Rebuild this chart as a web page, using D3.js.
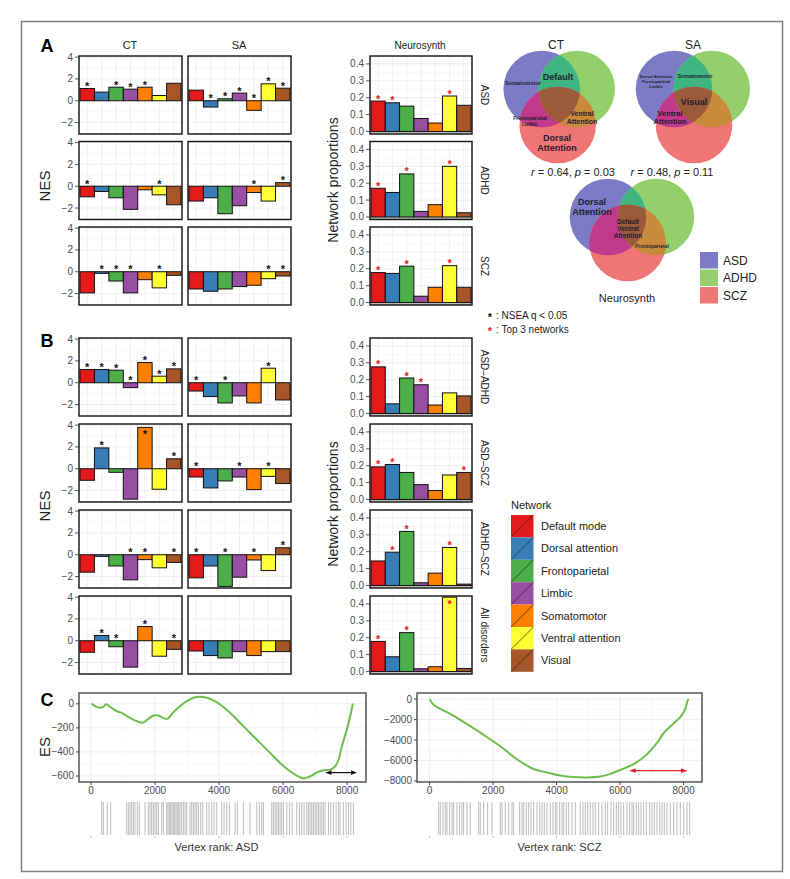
<!DOCTYPE html>
<html><head><meta charset="utf-8">
<script src="https://cdn.jsdelivr.net/npm/d3@7"></script>
<style>
body{margin:0;background:#fff;}
svg text{font-family:"Liberation Sans",Arial,Helvetica,sans-serif;}
</style></head><body>
<svg id="chart" width="790" height="879"></svg>
<script>
// ---------------- DATA ----------------
const networks = ["Default mode","Dorsal attention","Frontoparietal","Limbic","Somatomotor","Ventral attention","Visual"];
const netColors = ["#e41a1c","#377eb8","#4daf4a","#984ea3","#ff7f00","#ffff33","#a65628"];

const rowsA = ["ASD","ADHD","SCZ"];
const rowsB = ["ASD\u2013ADHD","ASD\u2013SCZ","ADHD\u2013SCZ","All disorders"];

const ctA = [[1.12,0.79,1.24,1.06,1.24,0.48,1.6],[-0.97,-0.48,-1.06,-2.12,-0.33,-0.79,-1.7],[-1.94,-0.15,-0.85,-1.94,-0.73,-1.48,-0.33]];
const ctAStars = [[1,0,1,1,1,0,0],[1,0,0,0,0,1,0],[0,1,1,1,0,1,0]];
const saA = [[0.97,-0.58,0.18,0.7,-0.88,1.55,1.15],[-1.36,-1.06,-2.52,-1.79,-0.58,-1.36,0.33],[-1.58,-1.79,-1.58,-1.36,-1.24,-0.64,-0.39]];
const saAStars = [[0,1,1,1,1,1,1],[0,0,0,0,1,0,1],[0,0,0,0,0,1,1]];
const ctB = [[1.21,1.21,1.15,-0.45,1.85,0.6,1.27],[-1.06,1.91,-0.33,-2.79,3.79,-1.88,0.91],[-1.6,-0.15,-1.03,-2.3,-0.45,-1.2,-0.7],[-1.06,0.48,-0.55,-2.42,1.3,-1.42,-0.79]];
const ctBStars = [[1,1,1,1,1,1,1],[0,1,0,0,1,0,1],[0,0,0,1,1,0,1],[0,1,1,0,1,0,1]];
const saB = [[-0.76,-1.27,-1.85,-1.21,-1.85,1.33,-1.58],[-0.76,-1.76,-1.12,-0.76,-1.91,-0.7,-1.36],[-2.12,-1.03,-2.9,-2.06,-0.48,-1.45,0.64],[-0.94,-1.36,-1.58,-1.0,-1.36,-1.0,-1.0]];
const saBStars = [[1,0,1,0,0,1,0],[1,0,0,1,0,1,0],[1,0,1,0,1,0,1],[0,0,0,0,0,0,0]];
const nsA = [[0.18,0.17,0.15,0.077,0.05,0.21,0.155],[0.17,0.145,0.255,0.033,0.073,0.30,0.025],[0.177,0.172,0.215,0.037,0.09,0.218,0.09]];
const nsAStars = [[1,1,0,0,0,1,0],[1,0,1,0,0,1,0],[1,0,1,0,0,1,0]];
const nsB = [[0.276,0.057,0.21,0.17,0.05,0.122,0.104],[0.193,0.207,0.16,0.088,0.053,0.145,0.16],[0.145,0.197,0.32,0.016,0.073,0.225,0.008],[0.178,0.087,0.23,0.016,0.028,0.44,0.018]];
const nsBStars = [[1,0,1,1,0,0,0],[1,1,0,0,0,0,1],[0,1,1,0,0,1,0],[1,0,1,0,0,1,0]];

const nesTicks = [-2,0,2,4];
const nsTicks = [0,0.1,0.2,0.3,0.4];

const vennGroups = ["ASD","ADHD","SCZ"];
const vennColors = ["#7b7bc6","#93d06c","#f07575"];
const vennCT = {title:"CT", stat:["0.64","0.03"], labels:[["Somatomotor"],["Default"],["Frontoparietal","Limbic"],["Ventral","Attention"],["Dorsal","Attention"]]};
const vennSA = {title:"SA", stat:["0.48","0.11"], labels:[["Dorsal Attention","Frontoparietal","Limbic"],["Somatomotor"],["Visual"],["Ventral","Attention"]]};
const vennNS = {title:"Neurosynth", labels:[["Dorsal","Attention"],["Default","Ventral","Attention"],["Frontoparietal"]]};

const esTicksASD = [0,-200,-400,-600];
const esTicksSCZ = [0,-2000,-4000,-6000,-8000];
const rankTicks = [0,2000,4000,6000,8000];
const asdRank = [20,125,281,385,469,594,802,958,1219,1427,1615,1740,1948,2104,2261,2386,2574,2782,2990,3198,3407,3615,3824,4032,4345,4658,4970,5283,5596,5908,6221,6429,6638,6742,6898,7054,7263,7471,7627,7732,7836,7992,8096,8179];
const asdES = [3,-19,-33,-25,-3,-25,-61,-75,-117,-144,-158,-136,-97,-97,-117,-125,-69,-19,22,50,58,50,28,-6,-75,-158,-242,-325,-408,-492,-561,-597,-620,-614,-597,-570,-553,-547,-520,-464,-353,-214,-103,3];
const sczRank = [0,126,337,652,1178,1703,2227,2752,3276,3591,4116,4535,4955,5376,5691,6006,6425,6846,7161,7370,7685,7896,8054,8126,8160];
const sczES = [0,-543,-952,-1429,-2448,-3495,-4610,-5876,-6829,-7086,-7467,-7619,-7657,-7562,-7305,-6924,-6352,-5400,-4286,-3333,-2381,-1752,-952,-162,0];
const asdLeadingEdge = [7344,8281,-572];
const sczLeadingEdge = [6322,8085,-6990];
const asdHits = [333,385,510,615,1115,1167,1219,1271,1323,1375,1448,1510,1688,1792,1844,1896,1948,2000,2052,2104,2208,2260,2365,2406,2448,2490,2531,2573,2615,2656,2698,2740,2781,2833,2885,2938,2990,3094,3146,3198,3250,3302,3354,3427,3490,3615,3688,3771,3844,3927,4083,4156,4240,4323,4500,4573,4760,4969,5177,5260,5333,5385,5646,5698,5750,5802,5854,5906,5958,6010,6115,6198,6281,6427,6510,6583,6656,6740,6792,6844,6896,6948,7000,7052,7104,7156,7208,7260,7313,7417,7490,7573,7656,7729,7781,7885,7969,8042,8115,8198];
const sczHits = [285,337,421,495,547,631,705,757,862,946,1020,1072,1177,1282,1545,1597,1702,1828,1965,2227,2280,2385,2490,2595,2647,2836,2910,2962,3046,3120,3193,3277,3382,3466,3540,3613,3697,3802,3886,3960,4012,4096,4170,4222,4306,4380,4485,4590,4747,4831,4905,4978,5062,5146,5220,5325,5430,5535,5608,5713,5797,5881,5954,6028,6112,6217,6301,6375,6427,6511,6584,6658,6742,6826,6931,7005,7078,7162,7246,7320,7393,7477,7582,7687,7792,7897,8002,8107,8191];

// ---------------- DRAW ----------------
const svg = d3.select("#chart");
const defs = svg.append("defs");
const TXT = "#4d4d4d";
const fmtNeg = d => (d < 0 ? "\u2212" + Math.abs(d) : "" + d);

// outer frame
svg.append("rect").attr("x",21.5).attr("y",21.5).attr("width",761).attr("height",850)
  .attr("fill","none").attr("stroke","#808080").attr("stroke-width",1.5);

function barPanel(x0, y0, w, h, values, stars, domain, ticks, tickFmt, showTicks, starColor, gridMinor) {
  const g = svg.append("g");
  const x = d3.scaleBand().domain(networks).range([x0+1, x0+w-1]).padding(0);
  const y = d3.scaleLinear().domain(domain).range([y0+h, y0]);
  gridMinor.forEach(t => g.append("line").attr("x1",x0).attr("x2",x0+w).attr("y1",y(t)).attr("y2",y(t)).attr("stroke","#f2f2f2").attr("stroke-width",0.6));
  ticks.forEach(t => g.append("line").attr("x1",x0).attr("x2",x0+w).attr("y1",y(t)).attr("y2",y(t)).attr("stroke","#ebebeb").attr("stroke-width",0.8));
  networks.forEach(n => g.append("line").attr("x1",x(n)+x.bandwidth()/2).attr("x2",x(n)+x.bandwidth()/2).attr("y1",y0).attr("y2",y0+h).attr("stroke","#ebebeb").attr("stroke-width",0.8));
  if (domain[0] < 0 && domain[0] > -0.1) {
    g.append("rect").attr("x",x0).attr("y",y(0)).attr("width",w).attr("height",y0+h-y(0)).attr("fill","#bdbdbd");
  }
  g.selectAll("rect.bar").data(values).join("rect").attr("class","bar")
    .attr("x",(d,i)=>x(networks[i])).attr("width",x.bandwidth())
    .attr("y",d=>y(Math.max(d,0))).attr("height",d=>Math.abs(y(d)-y(0)))
    .attr("fill",(d,i)=>netColors[i]).attr("stroke","#111").attr("stroke-width",1);
  values.forEach((v,i) => {
    if (!stars[i]) return;
    let top = y(Math.max(v,0));
    let base = top + 1.5;
    if (top - 9 < y0) base = top + 11;
    g.append("text").attr("x",x(networks[i])+x.bandwidth()/2).attr("y",base)
      .attr("text-anchor","middle").attr("font-size",11).attr("font-weight","bold")
      .attr("fill",starColor).text("*");
  });
  g.append("rect").attr("x",x0).attr("y",y0).attr("width",w).attr("height",h)
    .attr("fill","none").attr("stroke","#111").attr("stroke-width",1.4);
  if (showTicks) {
    ticks.forEach(t => {
      g.append("line").attr("x1",x0-4).attr("x2",x0).attr("y1",y(t)).attr("y2",y(t)).attr("stroke","#333").attr("stroke-width",0.8);
      g.append("text").attr("x",x0-6).attr("y",y(t)).attr("dy","0.35em").attr("text-anchor","end")
        .attr("font-size",10).attr("fill",TXT).text(tickFmt(t));
    });
  }
  return g;
}

const nesDomain = [-3.05, 4.1];
const nsDomain = [-0.015, 0.447];
const H = 78;
const topsA = [56, 141.5, 227];
const topsB = [338, 424, 510, 596];
const nsFmt = d => d.toFixed(1);

topsA.forEach((t,r) => {
  barPanel(79, t, 103, H, ctA[r], ctAStars[r], nesDomain, nesTicks, fmtNeg, true, "#111", [-3,-1,1,3]);
  barPanel(188, t, 103, H, saA[r], saAStars[r], nesDomain, nesTicks, fmtNeg, false, "#111", [-3,-1,1,3]);
  barPanel(370, t, 102, H, nsA[r], nsAStars[r], nsDomain, nsTicks, nsFmt, true, "#e41a1c", [0.05,0.15,0.25,0.35]);
  svg.append("text").attr("transform",`translate(484,${t+H/2}) rotate(90)`).attr("text-anchor","middle")
    .attr("dy","0.35em").attr("font-size",10).attr("fill","#222").text(rowsA[r]);
});
topsB.forEach((t,r) => {
  barPanel(79, t, 103, H, ctB[r], ctBStars[r], nesDomain, nesTicks, fmtNeg, true, "#111", [-3,-1,1,3]);
  barPanel(188, t, 103, H, saB[r], saBStars[r], nesDomain, nesTicks, fmtNeg, false, "#111", [-3,-1,1,3]);
  barPanel(370, t, 102, H, nsB[r], nsBStars[r], nsDomain, nsTicks, nsFmt, true, "#e41a1c", [0.05,0.15,0.25,0.35]);
  svg.append("text").attr("transform",`translate(484,${t+H/2}) rotate(90)`).attr("text-anchor","middle")
    .attr("dy","0.35em").attr("font-size",10).attr("fill","#222").text(rowsB[r]);
});

function txt(x,y,s,size,opts={}) {
  const t = svg.append("text").attr("x",x).attr("y",y).attr("font-size",size).text(s)
    .attr("text-anchor",opts.anchor||"middle").attr("fill",opts.fill||"#222");
  if (opts.weight) t.attr("font-weight",opts.weight);
  if (opts.rotate) t.attr("transform",`rotate(${opts.rotate},${x},${y})`);
  if (opts.dy) t.attr("dy",opts.dy);
  return t;
}
txt(47,52,"A",18,{weight:"bold",fill:"#000"});
txt(47,347,"B",18,{weight:"bold",fill:"#000"});
txt(47,706,"C",18,{weight:"bold",fill:"#000"});
txt(130,49,"CT",11);
txt(239,49,"SA",11);
txt(420,49,"Neurosynth",10);
txt(45,186,"NES",15,{rotate:-90,dy:"0.35em"});
txt(45,506,"NES",15,{rotate:-90,dy:"0.35em"});
txt(333,180,"Network proportions",14,{rotate:-90,dy:"0.35em"});
txt(333,504,"Network proportions",14,{rotate:-90,dy:"0.35em"});

// ---------------- VENN ----------------
const overlapColors = {AB:"#3fb682", AC:"#c1398c", BC:"#c98a3c", ABC:"#9b5a3a"};
let vid = 0;
function venn(cA, cB, cC, r) {
  const id = "v" + (vid++);
  defs.append("clipPath").attr("id",id+"A").append("circle").attr("cx",cA[0]).attr("cy",cA[1]).attr("r",r);
  defs.append("clipPath").attr("id",id+"B").append("circle").attr("cx",cB[0]).attr("cy",cB[1]).attr("r",r);
  const g = svg.append("g");
  const circ = (c, fill, clip, parent) => (parent||g).append("circle").attr("cx",c[0]).attr("cy",c[1]).attr("r",r).attr("fill",fill)
     .attr("clip-path", clip ? `url(#${id}${clip})` : null);
  circ(cA, vennColors[0]); circ(cB, vennColors[1]); circ(cC, vennColors[2]);
  circ(cB, overlapColors.AB, "A");
  circ(cC, overlapColors.AC, "A");
  circ(cC, overlapColors.BC, "B");
  const gg = g.append("g").attr("clip-path",`url(#${id}B)`);
  circ(cC, overlapColors.ABC, "A", gg);
  return g;
}
function vlabel(x, y, lines, size, bold, lh) {
  lines.forEach((s,i) => txt(x, y + i*lh, s, size, {weight: bold ? "bold" : null, fill:"#1e1e2e"}));
}
venn([541.7,89],[576.7,89],[557.7,125],38.3);
vlabel(523,85,vennCT.labels[0],5.5,true,6);
vlabel(558,80,vennCT.labels[1],9,true,10);
vlabel(530,120,vennCT.labels[2],5,true,6);
vlabel(582,116,vennCT.labels[3],7,true,8);
vlabel(557,141,vennCT.labels[4],9,true,10);
txt(556,49,vennCT.title,12);

venn([674,89],[711.7,89],[694,125],38.3);
vlabel(656,78,vennSA.labels[0],4.2,true,5.2);
vlabel(695,78,vennSA.labels[1],5.4,true,6);
vlabel(694,105,vennSA.labels[2],9,true,10);
vlabel(670,116,vennSA.labels[3],7.5,true,8);
txt(693,49,vennSA.title,12);

venn([608,217],[656,217],[627.6,243],38.3);
vlabel(592,205,vennNS.labels[0],9,true,10);
vlabel(628,224,vennNS.labels[1],6.5,true,7);
vlabel(652,248,vennNS.labels[2],5,true,6);
txt(627,302,vennNS.title,11);

function statText(cx, y, s) {
  const t = svg.append("text").attr("x",cx).attr("y",y).attr("text-anchor","middle").attr("font-size",11).attr("fill","#222");
  t.append("tspan").attr("font-style","italic").text("r");
  t.append("tspan").text(" = " + s[0] + ", ");
  t.append("tspan").attr("font-style","italic").text("p");
  t.append("tspan").text(" = " + s[1]);
}
statText(573,176,vennCT.stat);
statText(672,176,vennSA.stat);

vennGroups.forEach((gname,i) => {
  svg.append("rect").attr("x",700).attr("y",252+i*17.5).attr("width",18).attr("height",16.5).attr("fill",vennColors[i]);
  txt(723,260.5+i*17.5,gname,12,{anchor:"start",dy:"0.35em"});
});

txt(490,321,"*",11,{weight:"bold",fill:"#111"});
txt(496,319,": NSEA q < 0.05",10,{anchor:"start"});
txt(490,335,"*",11,{weight:"bold",fill:"#e41a1c"});
txt(496,333,": Top 3 networks",10,{anchor:"start"});

txt(511,509,"Network",11,{anchor:"start"});
networks.forEach((n,i) => {
  const y = 515 + i*22.4;
  svg.append("rect").attr("x",511).attr("y",y).attr("width",22.5).attr("height",22.4).attr("fill",netColors[i]);
  svg.append("line").attr("x1",511).attr("y1",y+22.4).attr("x2",533.5).attr("y2",y).attr("stroke","#222").attr("stroke-width",0.7);
  txt(541,y+11.2,n,11,{anchor:"start",dy:"0.35em"});
});

// ---------------- PANEL C ----------------
function esPlot(x0, x1, y0, y1, xDom, yDom, yTicks, ranks, es, edge, edgeColor, hits, label) {
  const x = d3.scaleLinear().domain(xDom).range([x0,x1]);
  const y = d3.scaleLinear().domain(yDom).range([y1,y0]);
  const g = svg.append("g");
  const minorY = yTicks.slice(0,-1).map((t,i)=>(t+yTicks[i+1])/2);
  minorY.forEach(t => g.append("line").attr("x1",x0).attr("x2",x1).attr("y1",y(t)).attr("y2",y(t)).attr("stroke","#f3f3f3").attr("stroke-width",0.6));
  [1000,3000,5000,7000].forEach(t => g.append("line").attr("x1",x(t)).attr("x2",x(t)).attr("y1",y0).attr("y2",y1).attr("stroke","#f3f3f3").attr("stroke-width",0.6));
  yTicks.forEach(t => g.append("line").attr("x1",x0).attr("x2",x1).attr("y1",y(t)).attr("y2",y(t)).attr("stroke","#ebebeb").attr("stroke-width",0.8));
  rankTicks.forEach(t => g.append("line").attr("x1",x(t)).attr("x2",x(t)).attr("y1",y0).attr("y2",y1).attr("stroke","#ebebeb").attr("stroke-width",0.8));
  const line = d3.line().x((d,i)=>x(ranks[i])).y(d=>y(d)).curve(d3.curveCatmullRom);
  g.append("path").attr("d",line(es)).attr("fill","none").attr("stroke","#6cbf4a").attr("stroke-width",2);
  const mid = "ah" + label.replace(/\W/g,"");
  const mk = defs.append("marker").attr("id",mid).attr("viewBox","0 0 10 10").attr("refX",9).attr("refY",5)
    .attr("markerWidth",5).attr("markerHeight",5).attr("orient","auto-start-reverse");
  mk.append("path").attr("d","M0,1 L10,5 L0,9 z").attr("fill",edgeColor);
  g.append("line").attr("x1",x(edge[0])).attr("x2",x(edge[1])).attr("y1",y(edge[2])).attr("y2",y(edge[2]))
    .attr("stroke",edgeColor).attr("stroke-width",1.2)
    .attr("marker-start",`url(#${mid})`).attr("marker-end",`url(#${mid})`);
  g.append("rect").attr("x",x0).attr("y",y0).attr("width",x1-x0).attr("height",y1-y0)
    .attr("fill","none").attr("stroke","#555").attr("stroke-width",1.5);
  yTicks.forEach(t => {
    g.append("line").attr("x1",x0-3).attr("x2",x0).attr("y1",y(t)).attr("y2",y(t)).attr("stroke","#444");
    txt(x0-5, y(t), fmtNeg(t), 10, {anchor:"end", dy:"0.35em", fill:TXT});
  });
  rankTicks.forEach(t => {
    g.append("line").attr("x1",x(t)).attr("x2",x(t)).attr("y1",y1).attr("y2",y1+3).attr("stroke","#444");
    txt(x(t), y1+12, ""+t, 10, {fill:TXT});
  });
  g.selectAll("line.hit").data(hits).join("line").attr("class","hit")
    .attr("x1",d=>x(d)).attr("x2",d=>x(d)).attr("y1",802).attr("y2",835)
    .attr("stroke","#777").attr("stroke-opacity",0.55).attr("stroke-width",0.9);
  rankTicks.forEach(t => g.append("line").attr("x1",x(t)).attr("x2",x(t)).attr("y1",836).attr("y2",838).attr("stroke","#bbb"));
  txt((x0+x1)/2 + (label.endsWith("ASD") ? -6 : 0), 851, label, 11, {fill:"#333"});
}
esPlot(79, 366, 693, 782, [-375,8590], [-650,90], esTicksASD, asdRank, asdES, asdLeadingEdge, "#111", asdHits, "Vertex rank: ASD");
esPlot(417, 702, 693, 782, [-397,8580], [-8100,600], esTicksSCZ, sczRank, sczES, sczLeadingEdge, "#e8202a", sczHits, "Vertex rank: SCZ");
txt(45,747,"ES",15,{rotate:-90,dy:"0.35em"});
</script></body></html>
